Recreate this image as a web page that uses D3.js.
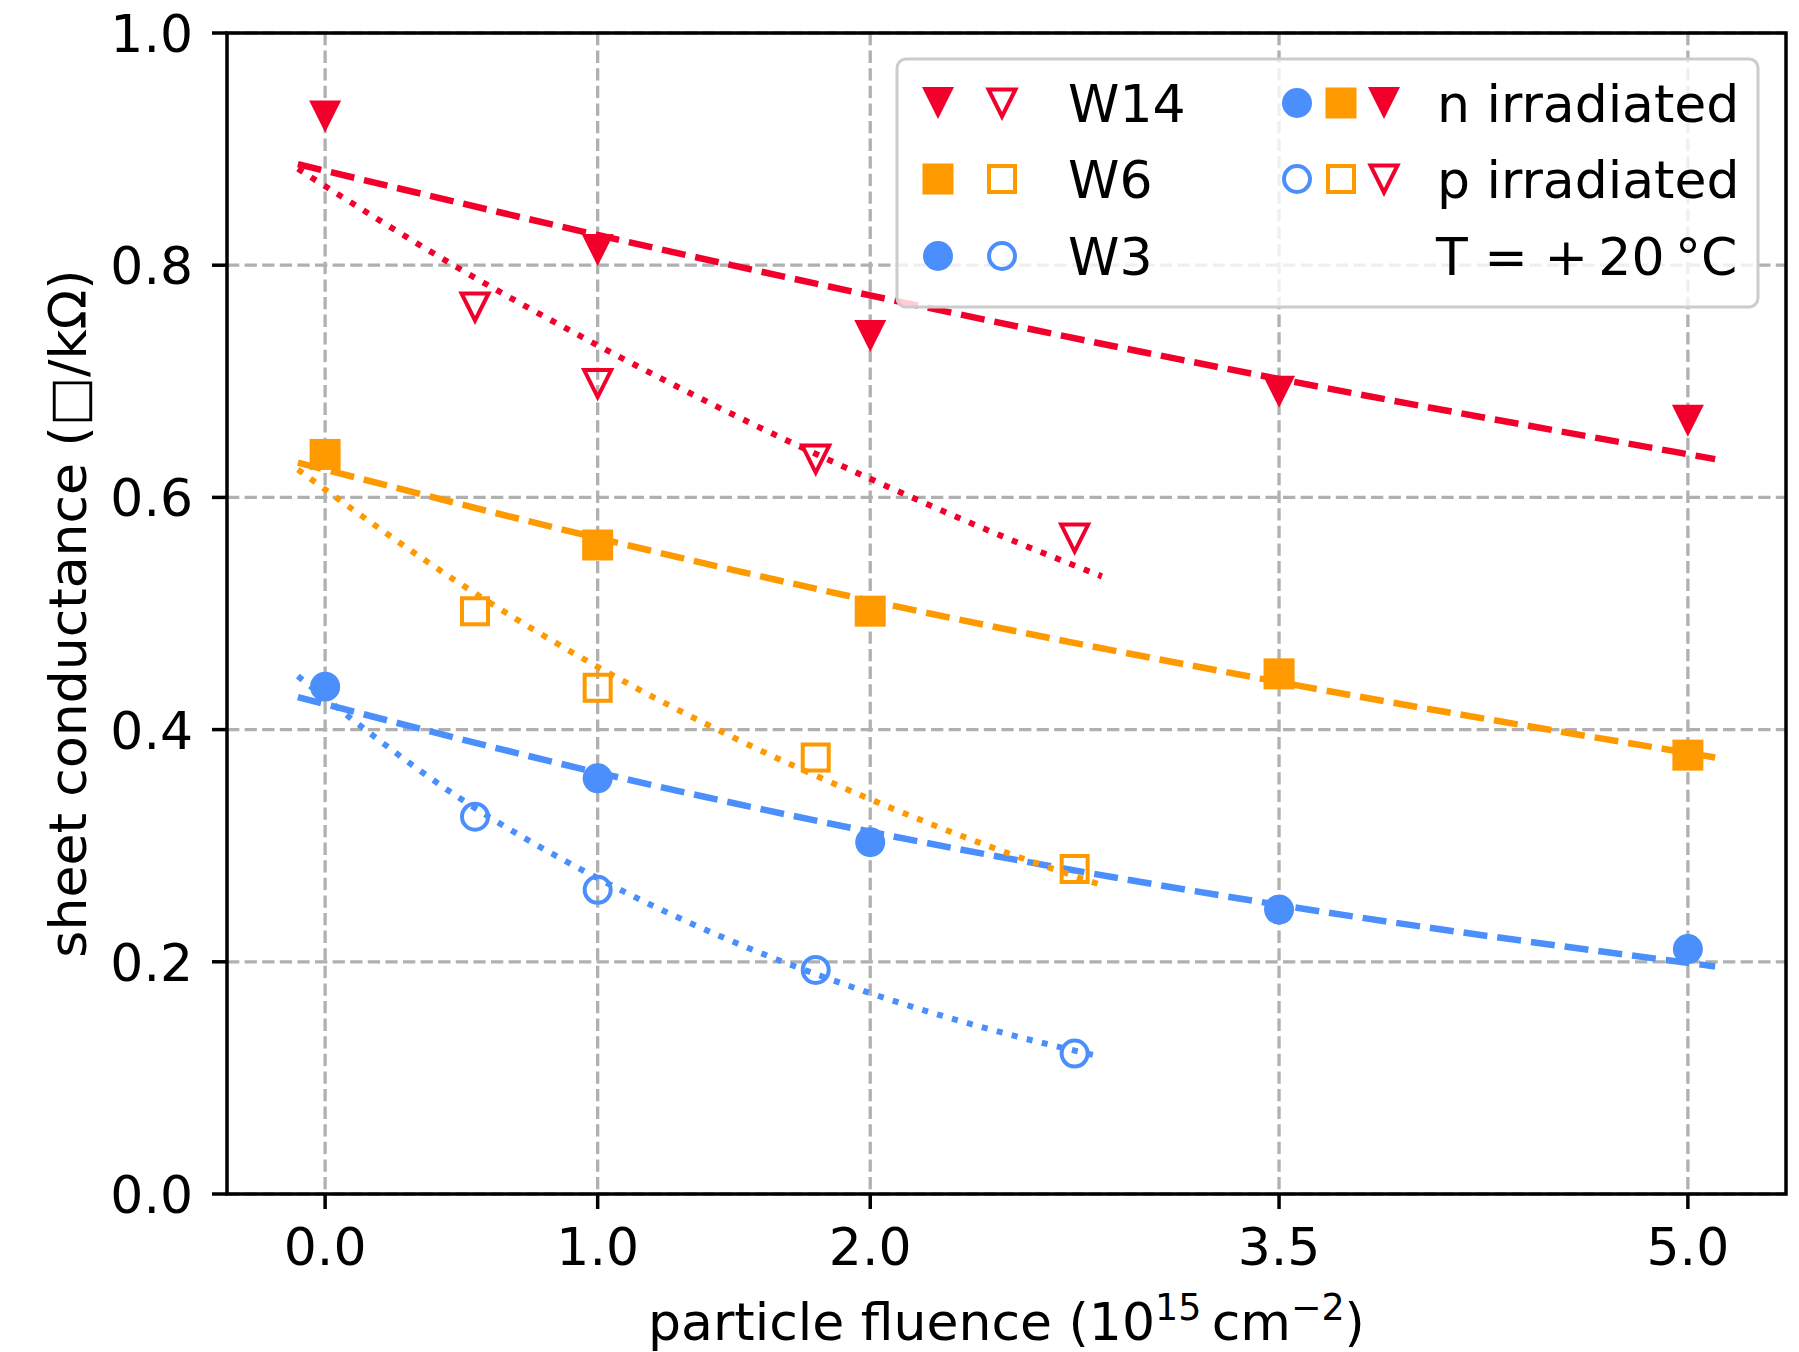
<!DOCTYPE html>
<html>
<head>
<meta charset="utf-8">
<script src="https://cdn.jsdelivr.net/npm/d3@7"></script>
<style>
  body { margin: 0; background: white; }
  svg { font-family: "DejaVu Sans", sans-serif; }
</style>
</head>
<body>
<svg id="chart"></svg>
<script>
// measured points
var fluenceN = [0.0, 1.0, 2.0, 3.5, 5.0]
var fluenceP = [0.55, 1.0, 1.8, 2.75]
var w14N = [0.928, 0.813, 0.739, 0.691, 0.666]
var w14P = [0.764, 0.698, 0.633, 0.565]
var w6N = [0.637, 0.559, 0.502, 0.448, 0.378]
var w6P = [0.502, 0.436, 0.376, 0.280]
var w3N = [0.437, 0.358, 0.303, 0.245, 0.211]
var w3P = [0.325, 0.262, 0.193, 0.121]

// fit curves
var fitXN = [-0.1, 1.0, 2.0, 3.5, 5.1]
var w14NFit = [0.887, 0.826, 0.774, 0.702, 0.633]
var w6NFit = [0.630, 0.565, 0.511, 0.441, 0.376]
var w3NFit = [0.428, 0.363, 0.312, 0.249, 0.196]
var fitXP = [-0.1, 0.5, 1.0, 1.5, 2.0, 2.5, 2.85]
var w14PFit = [0.883, 0.796, 0.731, 0.671, 0.616, 0.565, 0.532]
var w6PFit = [0.624, 0.525, 0.454, 0.393, 0.340, 0.294, 0.266]
var w3PFit = [0.446, 0.340, 0.272, 0.217, 0.173, 0.138, 0.118]

var xTicks = [0.0, 1.0, 2.0, 3.5, 5.0]
var yTicks = [0.0, 0.2, 0.4, 0.6, 0.8, 1.0]

var red = "#f2002b", orange = "#ff9900", blue = "#4a8ffb"

var dims = {width: 1799, height: 1352, left: 227, right: 1786, top: 33, bottom: 1194}
var fs = 52

var svg = d3.select("#chart")
    .attr("width", dims.width)
    .attr("height", dims.height)

var xScale = d3.scaleLinear().domain([-0.36, 5.36]).range([dims.left, dims.right])
var yScale = d3.scaleLinear().domain([0, 1]).range([dims.bottom, dims.top])

// grid
var grid = svg.append("g")
grid.selectAll(".vgrid").data(xTicks).enter().append("line")
    .attr("x1", d => xScale(d)).attr("x2", d => xScale(d))
    .attr("y1", dims.top).attr("y2", dims.bottom)
grid.selectAll(".hgrid").data(yTicks).enter().append("line")
    .attr("x1", dims.left).attr("x2", dims.right)
    .attr("y1", d => yScale(d)).attr("y2", d => yScale(d))
grid.selectAll("line")
    .attr("stroke", "#b0b0b0")
    .attr("stroke-width", 3.3)
    .attr("stroke-dasharray", "12.3,5.3")

// fit lines
var line = d3.line()
    .x(d => xScale(d[0]))
    .y(d => yScale(d[1]))
    .curve(d3.curveMonotoneX)

var fits = [
    {xs: fitXN, ys: w14NFit, color: red, dash: "24,10", w: 6.5},
    {xs: fitXN, ys: w6NFit, color: orange, dash: "24,10", w: 6.5},
    {xs: fitXN, ys: w3NFit, color: blue, dash: "24,10", w: 6.5},
    {xs: fitXP, ys: w14PFit, color: red, dash: "6,9.5", w: 6},
    {xs: fitXP, ys: w6PFit, color: orange, dash: "6,9.5", w: 6},
    {xs: fitXP, ys: w3PFit, color: blue, dash: "6,9.5", w: 6}
]
svg.append("g").selectAll("path")
    .data(fits)
    .enter()
    .append("path")
    .attr("d", f => line(f.xs.map((x, i) => [x, f.ys[i]])))
    .attr("fill", "none")
    .attr("stroke", f => f.color)
    .attr("stroke-width", f => f.w)
    .attr("stroke-dasharray", f => f.dash)

// marker shapes
function shape(kind, open) {
    var s = open ? 13.5 : 16
    if (kind == "tri") return `M${-s},${-s}L${s},${-s}L0,${s}Z`
    if (kind == "sq") { s = open ? 13 : 15.5; return `M${-s},${-s}H${s}V${s}H${-s}Z` }
    var r = open ? 13 : 15
    return `M${-r},0A${r},${r} 0 1,0 ${r},0A${r},${r} 0 1,0 ${-r},0Z`
}

var series = [
    {xs: fluenceN, ys: w14N, color: red, kind: "tri", open: false},
    {xs: fluenceP, ys: w14P, color: red, kind: "tri", open: true},
    {xs: fluenceN, ys: w6N, color: orange, kind: "sq", open: false},
    {xs: fluenceP, ys: w6P, color: orange, kind: "sq", open: true},
    {xs: fluenceN, ys: w3N, color: blue, kind: "circ", open: false},
    {xs: fluenceP, ys: w3P, color: blue, kind: "circ", open: true}
]

series.forEach(s => {
    svg.append("g").selectAll("path")
        .data(s.xs.map((x, i) => [x, s.ys[i]]))
        .enter()
        .append("path")
        .attr("transform", d => `translate(${xScale(d[0])},${yScale(d[1])})`)
        .attr("d", shape(s.kind, s.open))
        .attr("fill", s.open ? "none" : s.color)
        .attr("stroke", s.open ? s.color : "none")
        .attr("stroke-width", 4)
})

// axes frame
svg.append("rect")
    .attr("x", dims.left).attr("y", dims.top)
    .attr("width", dims.right - dims.left).attr("height", dims.bottom - dims.top)
    .attr("fill", "none").attr("stroke", "black").attr("stroke-width", 3.5)

var xAxis = svg.append("g")
xAxis.selectAll("line").data(xTicks).enter().append("line")
    .attr("x1", d => xScale(d)).attr("x2", d => xScale(d))
    .attr("y1", dims.bottom).attr("y2", dims.bottom + 15)
    .attr("stroke", "black").attr("stroke-width", 3.5)
xAxis.selectAll("text").data(xTicks).enter().append("text")
    .attr("x", d => xScale(d)).attr("y", 1265)
    .attr("text-anchor", "middle").attr("font-size", fs)
    .text(d => d.toFixed(1))

var yAxis = svg.append("g")
yAxis.selectAll("line").data(yTicks).enter().append("line")
    .attr("x1", dims.left - 15).attr("x2", dims.left)
    .attr("y1", d => yScale(d)).attr("y2", d => yScale(d))
    .attr("stroke", "black").attr("stroke-width", 3.5)
yAxis.selectAll("text").data(yTicks).enter().append("text")
    .attr("x", 193).attr("y", d => yScale(d) + 19)
    .attr("text-anchor", "end").attr("font-size", fs)
    .text(d => d.toFixed(1))

// axis labels
var xLabel = svg.append("text")
    .attr("x", (dims.left + dims.right) / 2).attr("y", 1340)
    .attr("text-anchor", "middle").attr("font-size", fs)
xLabel.append("tspan").text("particle fluence (10")
xLabel.append("tspan").attr("font-size", fs * 0.7).attr("dy", -20).text("15")
xLabel.append("tspan").attr("dy", 20).text("\u2009cm")
xLabel.append("tspan").attr("font-size", fs * 0.7).attr("dy", -20).text("\u22122")
xLabel.append("tspan").attr("dy", 20).text(")")

svg.append("text")
    .attr("transform", `translate(86,${(dims.top + dims.bottom) / 2}) rotate(-90)`)
    .attr("text-anchor", "middle").attr("font-size", fs)
    .text("sheet conductance (\u25a1/k\u03a9)")

// legend
var legend = svg.append("g")
legend.append("rect")
    .attr("x", 897).attr("y", 59).attr("width", 861).attr("height", 248)
    .attr("rx", 9)
    .attr("fill", "white").attr("fill-opacity", 0.8)
    .attr("stroke", "#cccccc").attr("stroke-width", 3)

var rowY = [103, 179, 256]
var leftRows = [
    {label: "W14", color: red, kind: "tri"},
    {label: "W6", color: orange, kind: "sq"},
    {label: "W3", color: blue, kind: "circ"}
]
leftRows.forEach((r, i) => {
    legend.append("path").attr("transform", `translate(938,${rowY[i]})`)
        .attr("d", shape(r.kind, false)).attr("fill", r.color)
    legend.append("path").attr("transform", `translate(1002,${rowY[i]})`)
        .attr("d", shape(r.kind, true)).attr("fill", "none")
        .attr("stroke", r.color).attr("stroke-width", 4)
    legend.append("text").attr("x", 1068).attr("y", rowY[i] + 19)
        .attr("font-size", fs).text(r.label)
})

var rightX = [1297, 1341, 1384]
var rightRows = [
    {label: "n irradiated", open: false},
    {label: "p irradiated", open: true}
]
rightRows.forEach((r, i) => {
    leftRows.slice().reverse().forEach((m, j) => {
        legend.append("path").attr("transform", `translate(${rightX[j]},${rowY[i]})`)
            .attr("d", shape(m.kind, r.open))
            .attr("fill", r.open ? "none" : m.color)
            .attr("stroke", r.open ? m.color : "none")
            .attr("stroke-width", 4)
    })
    legend.append("text").attr("x", 1437).attr("y", rowY[i] + 19)
        .attr("font-size", fs).text(r.label)
})
legend.append("text").attr("x", 1436).attr("y", rowY[2] + 19)
    .attr("font-size", fs).attr("xml:space", "preserve")
    .text("T = +\u200920\u2009\u00b0C")
</script>
</body>
</html>
